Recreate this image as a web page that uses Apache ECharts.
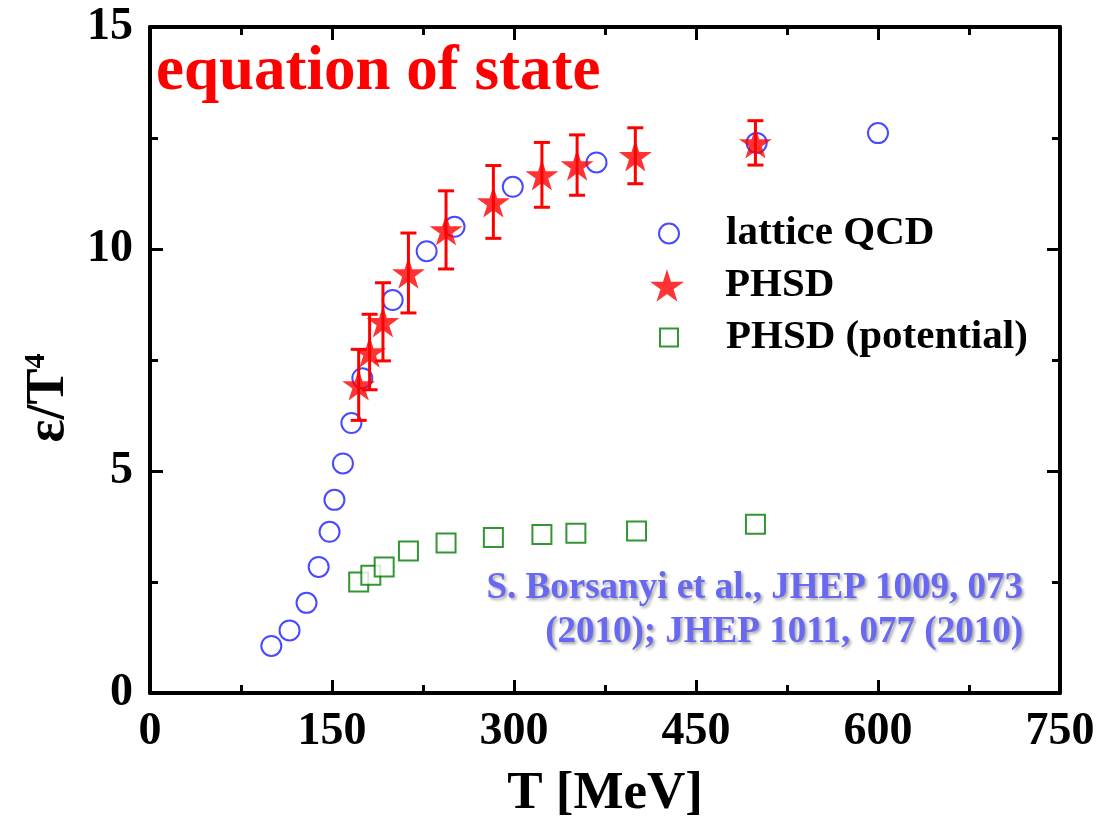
<!DOCTYPE html>
<html>
<head>
<meta charset="utf-8">
<script src="https://cdn.jsdelivr.net/npm/echarts@6/dist/echarts.min.js"></script>
<style>html,body{margin:0;padding:0;background:#fff}#c{width:1112px;height:818px}</style>
</head>
<body>
<div id="c"></div>
<script>
// ---- data ----
const latticeT = [100, 115, 129, 139, 148, 152, 159, 166, 175, 200, 228, 251, 299, 368, 500, 600];
const latticeE = [1.06, 1.41, 2.03, 2.84, 3.63, 4.35, 5.17, 6.08, 7.09, 8.85, 9.95, 10.5, 11.4, 11.95, 12.39, 12.61];

const phsdT   = [172, 181, 192, 213, 244, 283, 323, 352, 400, 499];
const phsdE   = [6.94, 7.68, 8.36, 9.46, 10.43, 11.06, 11.67, 11.89, 12.1, 12.39];
const phsdErr = [0.8, 0.85, 0.88, 0.9, 0.88, 0.82, 0.73, 0.68, 0.63, 0.5];

const potT = [172, 182, 193, 213, 244, 283, 323, 351, 401, 499];
const potE = [2.50, 2.65, 2.84, 3.20, 3.38, 3.50, 3.57, 3.60, 3.65, 3.80];

const xTicks = {min: 0, max: 750, interval: 150};
const yTicks = {min: 0, max: 15, interval: 5};

const seriesNames = ['lattice QCD', 'PHSD', 'PHSD (potential)'];
const titleText = 'equation of state';
const citeLines = ['S. Borsanyi et al., JHEP 1009, 073', '(2010); JHEP 1011, 077 (2010)'];

// ---- chart ----
const FONT = '"Liberation Serif", "Times New Roman", serif';
const STAR = 'path://M50,0L61.2,34.5L97.6,34.5L68.2,55.9L79.4,90.5L50,69.1L20.6,90.5L31.8,55.9L2.4,34.5L38.8,34.5Z';

const zip = (a, b) => a.map((v, i) => [v, b[i]]);
const errData = phsdT.map((t, i) => [t, phsdE[i] - phsdErr[i], phsdE[i] + phsdErr[i]]);

const axisCommon = {
  type: 'value',
  axisLine: {show: true, onZero: false, lineStyle: {color: '#000', width: 4}},
  axisTick: {show: true, inside: true, length: 13, lineStyle: {color: '#000', width: 3}},
  minorTick: {show: true, splitNumber: 2, length: 8, lineStyle: {color: '#000', width: 3}},
  splitLine: {show: false},
  minorSplitLine: {show: false}
};
const labelStyle = {color: '#000', fontFamily: FONT, fontWeight: 'bold', fontSize: 46};

const chart = echarts.init(document.getElementById('c'), null, {renderer: 'canvas'});
const legendText = {color: '#000', fontFamily: FONT, fontWeight: 'bold', fontSize: 41};
const citeStyle = {
  fill: '#6868f2', font: 'bold 37px ' + FONT,
  textShadowColor: 'rgba(60,60,60,0.45)', textShadowBlur: 3, textShadowOffsetX: 2, textShadowOffsetY: 2
};

chart.setOption({
  animation: false,
  backgroundColor: '#fff',
  grid: {left: 150, right: 52, top: 27, bottom: 125, containLabel: false, outerBoundsMode: 'none'},
  title: {
    text: titleText, left: 156, top: 41, padding: 0,
    textStyle: {color: '#ff0000', fontFamily: FONT, fontWeight: 'bold', fontSize: 63}
  },
  legend: [
    {data: [seriesNames[0]], orient: 'vertical', left: 658, top: 213, itemWidth: 20, itemHeight: 20,
     padding: 0, textStyle: Object.assign({padding: [0, 0, 0, 42]}, legendText), selectedMode: false},
    {data: [seriesNames[1]], orient: 'vertical', left: 650, top: 265, itemWidth: 34, itemHeight: 34,
     padding: 0, textStyle: Object.assign({padding: [0, 0, 0, 36]}, legendText), selectedMode: false},
    {data: [seriesNames[2]], orient: 'vertical', left: 659, top: 317, itemWidth: 18, itemHeight: 18,
     padding: 0, textStyle: Object.assign({padding: [0, 0, 0, 43]}, legendText), selectedMode: false}
  ],
  xAxis: [
    Object.assign({}, axisCommon, xTicks, {
      position: 'bottom',
      axisLabel: Object.assign({margin: 16}, labelStyle),
      name: 'T [MeV]', nameLocation: 'middle', nameGap: 75,
      nameTextStyle: {color: '#000', fontFamily: FONT, fontWeight: 'bold', fontSize: 53}
    }),
    Object.assign({}, axisCommon, xTicks, {position: 'top', axisLabel: {show: false}})
  ],
  yAxis: [
    Object.assign({}, axisCommon, yTicks, {
      position: 'left',
      axisLabel: Object.assign({margin: 17}, labelStyle),
      name: '{a|ε/T}{b|4}', nameLocation: 'middle', nameGap: 72, nameRotate: 90,
      nameTextStyle: {
        padding: [0, 76, 0, 0],
        rich: {
          a: {color: '#000', fontFamily: FONT, fontWeight: 'bold', fontSize: 54},
          b: {color: '#000', fontFamily: FONT, fontWeight: 'bold', fontSize: 30, padding: [0, 0, 26, 0]}
        }
      }
    }),
    Object.assign({}, axisCommon, yTicks, {position: 'right', axisLabel: {show: false}})
  ],
  graphic: [
    {type: 'text', right: 89, top: 570, style: Object.assign({text: citeLines[0]}, citeStyle)},
    {type: 'text', right: 89, top: 614, style: Object.assign({text: citeLines[1]}, citeStyle)}
  ],
  series: [
    {
      name: seriesNames[0], type: 'scatter', data: zip(latticeT, latticeE),
      symbol: 'emptyCircle', symbolSize: 20,
      itemStyle: {color: '#1c1cff', borderColor: '#1c1cff', borderWidth: 2.5}, z: 2
    },
    {
      name: 'PHSD error', type: 'custom', data: errData, z: 3,
      renderItem: function (params, api) {
        const x = api.value(0), lo = api.value(1), hi = api.value(2);
        const top = api.coord([x, hi]), bot = api.coord([x, lo]);
        const w = 8;
        const st = {stroke: '#ff0000', lineWidth: 3};
        return {
          type: 'group', children: [
            {type: 'line', shape: {x1: top[0], y1: top[1], x2: bot[0], y2: bot[1]}, style: st},
            {type: 'line', shape: {x1: top[0] - w, y1: top[1], x2: top[0] + w, y2: top[1]}, style: st},
            {type: 'line', shape: {x1: bot[0] - w, y1: bot[1], x2: bot[0] + w, y2: bot[1]}, style: st}
          ]
        };
      }
    },
    {
      name: seriesNames[1], type: 'scatter', data: zip(phsdT, phsdE),
      symbol: STAR, symbolSize: 33, symbolKeepAspect: true,
      itemStyle: {color: '#ff0000'}, z: 4
    },
    {
      name: seriesNames[2], type: 'scatter', data: zip(potT, potE),
      symbol: 'emptyRect', symbolSize: 19,
      itemStyle: {color: '#007a00', borderColor: '#007a00', borderWidth: 3.5}, z: 2
    }
  ]
});
</script>
</body>
</html>
